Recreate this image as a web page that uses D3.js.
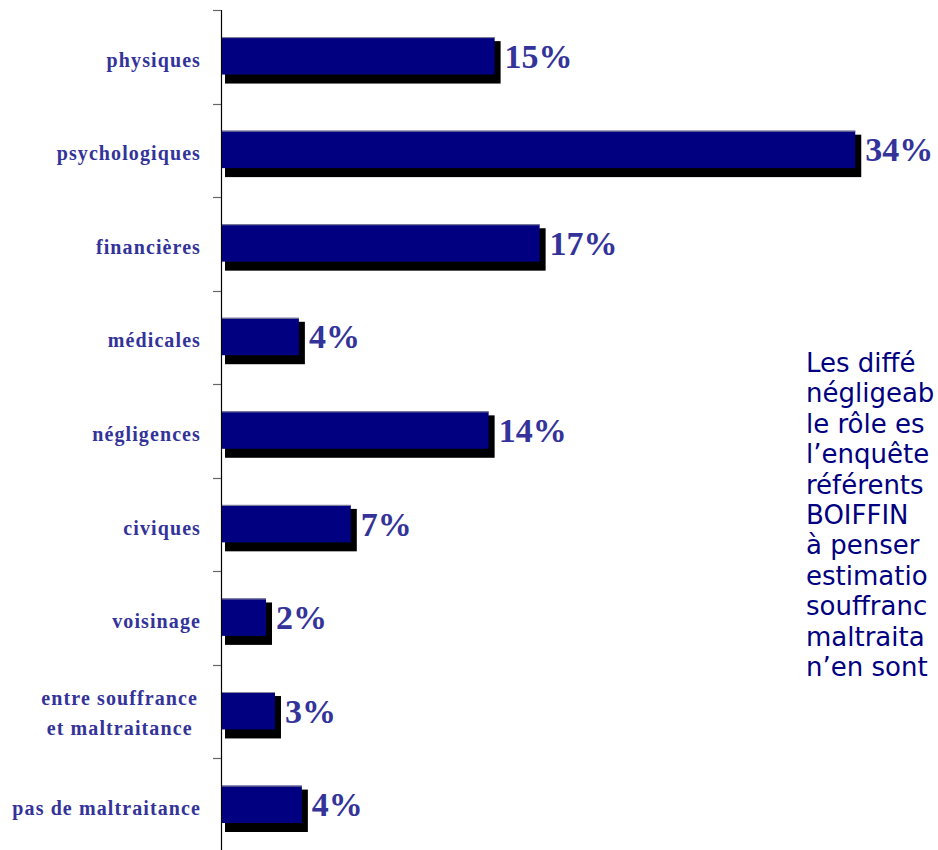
<!DOCTYPE html>
<html><head><meta charset="utf-8">
<script src="https://cdn.jsdelivr.net/npm/d3@7"></script>
<style>html,body{margin:0;padding:0;background:#fff;overflow:hidden}</style>
</head><body>
<svg id="chart" width="938" height="850"></svg>
<script>
const categories = ["physiques","psychologiques","financières","médicales","négligences","civiques","voisinage","entre souffrance\net maltraitance","pas de maltraitance"];
const values = [14.65, 33.96, 17.06, 4.17, 14.33, 6.95, 2.41, 2.89, 4.33];
const valueLabels = ["15%","34%","17%","4%","14%","7%","2%","3%","4%"];
const noteLines = ["Les diffé","négligeab","le rôle es","l\u2019enquête","référents","BOIFFIN","à penser","estimatio","souffranc","maltraita","n\u2019en sont"];

const svg = d3.select("#chart");
const x = d3.scaleLinear().domain([0, 34]).range([221, 856]);
const y = d3.scaleBand().domain(categories).range([10, 852]).paddingInner(0).paddingOuter(0);
const bw = y.bandwidth();
const barTop = c => y(c) + bw * 0.29;
const barH = bw * 0.4;

const data = categories.map((c, i) => ({c, v: values[i], lab: valueLabels[i]}));

// shadows
svg.append("g").selectAll("rect").data(data).join("rect")
  .attr("x", x(0) + 4)
  .attr("y", d => barTop(d.c) + 4)
  .attr("width", d => x(d.v) - x(0) + 2)
  .attr("height", barH + 5)
  .attr("fill", "#000");
// bars
svg.append("g").selectAll("rect").data(data).join("rect")
  .attr("x", x(0))
  .attr("y", d => barTop(d.c))
  .attr("width", d => x(d.v) - x(0))
  .attr("height", barH)
  .attr("fill", "#000080");
// top edge highlight
svg.append("g").selectAll("line").data(data).join("line")
  .attr("x1", x(0)).attr("x2", d => x(d.v))
  .attr("y1", d => barTop(d.c) + 0.5).attr("y2", d => barTop(d.c) + 0.5)
  .attr("stroke", "#8a8a9a").attr("stroke-width", 1);

// axis line and boundary ticks
const bounds = categories.map(c => y(c)).concat([y.range()[1]]);
svg.append("line").attr("x1", x(0) + 0.5).attr("x2", x(0) + 0.5)
  .attr("y1", y.range()[0]).attr("y2", 850)
  .attr("stroke", "#000").attr("stroke-width", 1.2);
svg.append("g").selectAll("line").data(bounds).join("line")
  .attr("x1", x(0) - 8).attr("x2", x(0))
  .attr("y1", d => Math.round(d) + 0.5).attr("y2", d => Math.round(d) + 0.5)
  .attr("stroke", "#666").attr("stroke-width", 1.2);

// value labels
svg.append("g").selectAll("text").data(data).join("text")
  .attr("x", d => x(d.v) + 10)
  .attr("y", d => y(d.c) + bw / 2 + 11)
  .attr("font-family", "'Liberation Serif','Times New Roman',serif")
  .attr("font-weight", "bold")
  .attr("font-size", 34)
  .attr("fill", "#333399")
  .text(d => d.lab);

// category labels
const catG = svg.append("g");
data.forEach(d => {
  const lines = d.c.split("\n");
  const cy = y(d.c) + bw / 2;
  const t = catG.append("text")
    .attr("font-family", "'Liberation Serif','Times New Roman',serif")
    .attr("font-weight", "bold")
    .attr("font-size", 20)
    .attr("letter-spacing", 1.1)
    .attr("fill", "#333399");
  if (lines.length === 1) {
    t.attr("x", 201).attr("y", cy + 10).attr("text-anchor", "end").text(lines[0]);
  } else {
    const spans = lines.map((l, i) => t.append("tspan").attr("y", cy - 7 + i * 30).text(l));
    const widths = spans.map(s => s.node().getComputedTextLength());
    const maxW = Math.max(...widths);
    t.attr("text-anchor", "middle");
    spans.forEach(s => s.attr("x", 198 - maxW / 2));
  }
});

// side note (only the part visible in the reference)
svg.append("g").selectAll("text").data(noteLines).join("text")
  .attr("x", 806)
  .attr("y", (d, i) => 372 + i * 30.4)
  .attr("font-family", "'Comic Sans MS','DejaVu Sans',sans-serif")
  .attr("font-size", 26)
  .attr("fill", "#000080")
  .text(d => d);
</script>
</body></html>
